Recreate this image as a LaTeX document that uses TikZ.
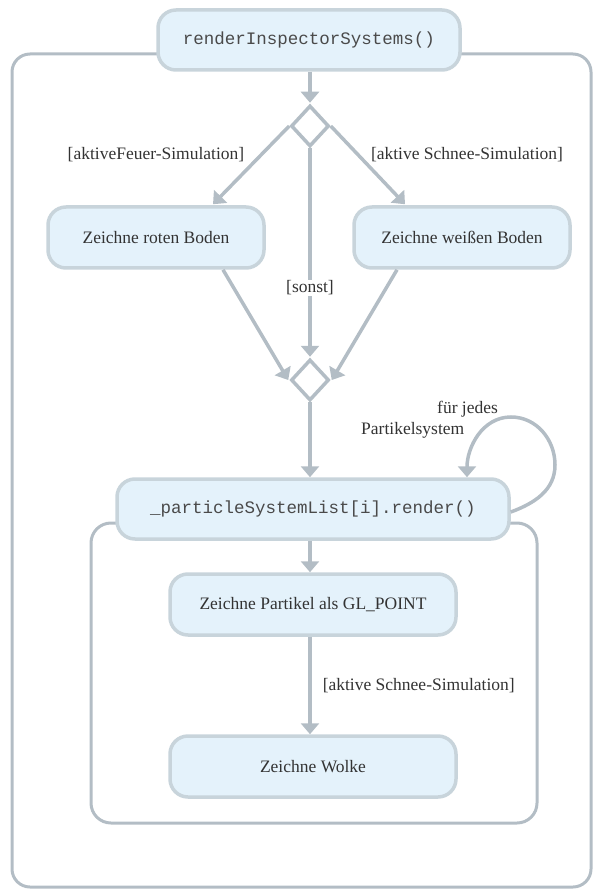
\documentclass[tikz,border=0pt]{standalone}
\usepackage{fontspec}
\setmainfont{Liberation Serif}
\setmonofont{Liberation Mono}
\usetikzlibrary{arrows.meta,shapes.geometric,calc}
\definecolor{boxfill}{HTML}{E4F2FB}
\definecolor{boxline}{HTML}{C8D4DB}
\definecolor{linecol}{HTML}{B3BDC5}
\definecolor{txt}{HTML}{333333}
\definecolor{codetxt}{HTML}{4A4A4A}
\tikzset{
  actbox/.style={draw=boxline, fill=boxfill, line width=3.5pt, rounded corners=18pt,
    inner sep=0pt, text=txt, font=\fontsize{17.5}{21}\selectfont},
  codebox/.style={actbox, text=codetxt, font=\fontsize{17.5}{21}\selectfont\ttfamily},
  decision/.style={diamond, draw=linecol, fill=white, line width=3.5pt, inner sep=0pt,
    minimum width=38pt, minimum height=41pt},
  frame/.style={draw=linecol, line width=3pt, rounded corners=18pt},
  flow/.style={draw=linecol, line width=3.5pt, -{Triangle[width=18pt,length=11pt]}},
  lbl/.style={text=txt, font=\fontsize{17.5}{21}\selectfont, inner sep=1pt}
}
\begin{document}
\begin{tikzpicture}[x=1pt,y=-1pt]
\useasboundingbox (0,0) rectangle (595,890);
% frames
\draw[frame] (12,54) rectangle (591,887);
\draw[frame, rounded corners=20pt] (91,523) rectangle (537,823);
% nodes
\node[codebox, minimum width=302pt, minimum height=60pt] (top) at (309,40) {renderInspectorSystems()};
\node[decision] (d1) at (310,126) {};
\node[actbox, minimum width=216pt, minimum height=61pt] (roten) at (156,237.5) {Zeichne roten Boden};
\node[actbox, minimum width=216pt, minimum height=61pt] (weiss) at (462,237.5) {Zeichne weißen Boden};
\node[decision] (d2) at (310,380) {};
\node[codebox, minimum width=392pt, minimum height=60pt] (render) at (313,509) {\_particleSystemList[i].render()};
\node[actbox, minimum width=286pt, minimum height=61pt] (partikel) at (313,604.5) {Zeichne Partikel als GL\_POINT};
\node[actbox, minimum width=286pt, minimum height=61pt] (wolke) at (313,766.5) {Zeichne Wolke};
% connectors
\draw[flow] (top.south -| d1.north) -- ([yshift=1pt]d1.north);
\draw[flow] (d1.west) -- ([xshift=57pt,yshift=1pt]roten.north);
\draw[flow] (d1.east) -- ([xshift=-57pt,yshift=1pt]weiss.north);
\draw[flow] (d1.south) -- ([yshift=1pt]d2.north)
  node[lbl, fill=white, pos=0.67] (sonst) {[sonst]};
\draw[flow] ([xshift=67pt]roten.south) -- ([xshift=-1pt]d2.west);
\draw[flow] ([xshift=-65pt]weiss.south) -- ([xshift=1pt]d2.east);
\draw[flow] (d2.south) -- (d2.south |- render.north);
\draw[flow] ([yshift=-3pt]render.east) to[out=20,in=-90] (555,465) to[out=90,in=0] (511,417) to[out=180,in=90] ([xshift=154pt]render.north);
\draw[flow] (d2.south |- render.south) -- (d2.south |- partikel.north);
\draw[flow] (d2.south |- partikel.south) -- (d2.south |- wolke.north)
  node[lbl, pos=0.5, anchor=west, xshift=10pt] (schnee2) {[aktive Schnee-Simulation]};
% labels
\node[lbl] (feuer) at (156,155) {[aktiveFeuer-Simulation]};
\node[lbl] (schnee1) at (467,155) {[aktive Schnee-Simulation]};
\node[lbl, align=left, anchor=north west] (fuer) at (360,400) {\hspace*{76pt}für jedes\\Partikelsystem};
\end{tikzpicture}
\end{document}
